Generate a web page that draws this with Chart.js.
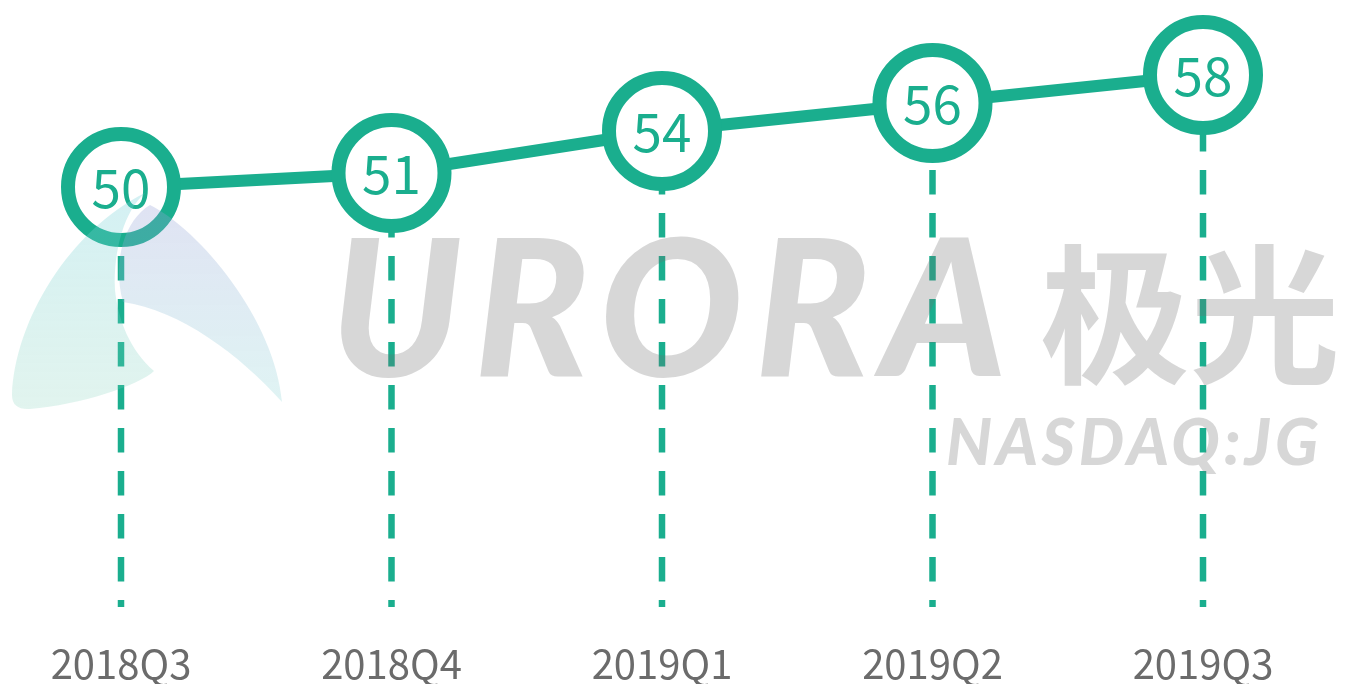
<!DOCTYPE html>
<html>
<head>
<meta charset="utf-8">
<script src="https://cdn.jsdelivr.net/npm/chart.js@4"></script>
<style>
  html, body { margin: 0; padding: 0; background: #fff; }
  #wrap { width: 1345px; height: 684px; position: relative; }
</style>
</head>
<body>
<div id="wrap"><canvas id="chart"></canvas></div>
<script>
// data
const quarters = ["2018Q3", "2018Q4", "2019Q1", "2019Q2", "2019Q3"];
const values = [50, 51, 54, 56, 58];

const teal = "#1aae8e";

// dashed drop lines from each point to the bottom of the plot
const dropLines = {
  id: "dropLines",
  beforeDatasetsDraw(chart) {
    const ctx = chart.ctx;
    const area = chart.chartArea;
    const meta = chart.getDatasetMeta(0);
    ctx.save();
    ctx.strokeStyle = teal;
    ctx.lineWidth = 6.5;
    ctx.setLineDash([24.5, 18.5]);
    meta.data.forEach(p => {
      ctx.lineDashOffset = p.y + 2;
      ctx.beginPath();
      ctx.moveTo(p.x, p.y);
      ctx.lineTo(p.x, area.bottom);
      ctx.stroke();
    });
    ctx.restore();
  }
};

// value inside each circle
const valueLabels = {
  id: "valueLabels",
  afterDatasetsDraw(chart) {
    const ctx = chart.ctx;
    const meta = chart.getDatasetMeta(0);
    ctx.save();
    ctx.fillStyle = teal;
    ctx.font = '53px "Noto Sans CJK SC"';
    ctx.textAlign = "center";
    ctx.textBaseline = "middle";
    meta.data.forEach((p, i) => {
      ctx.fillText(String(values[i]), p.x, p.y + 1);
    });
    ctx.restore();
  }
};

// faint logo watermark over everything
const watermark = {
  id: "watermark",
  afterDraw(chart) {
    const ctx = chart.ctx;
    ctx.save();
    // fan shaped logo on the left
    let g = ctx.createLinearGradient(0, 190, 0, 410);
    g.addColorStop(0, "rgba(120,210,220,0.32)");
    g.addColorStop(1, "rgba(120,205,180,0.22)");
    ctx.fillStyle = g;
    ctx.beginPath();
    ctx.moveTo(145, 193);
    ctx.bezierCurveTo(70, 230, 15, 320, 12, 395);
    ctx.quadraticCurveTo(12, 410, 30, 409);
    ctx.bezierCurveTo(80, 405, 140, 385, 154, 371);
    ctx.bezierCurveTo(130, 350, 118, 320, 115, 290);
    ctx.bezierCurveTo(113, 250, 125, 210, 145, 193);
    ctx.fill();
    g = ctx.createLinearGradient(0, 205, 0, 405);
    g.addColorStop(0, "rgba(150,160,215,0.30)");
    g.addColorStop(1, "rgba(130,210,210,0.25)");
    ctx.fillStyle = g;
    ctx.beginPath();
    ctx.moveTo(150, 205);
    ctx.bezierCurveTo(200, 230, 275, 320, 282, 402);
    ctx.bezierCurveTo(240, 355, 180, 310, 123, 302);
    ctx.bezierCurveTo(112, 260, 125, 220, 150, 205);
    ctx.fill();

    ctx.fillStyle = "rgba(110,110,110,0.28)";
    ctx.textBaseline = "alphabetic";
    ctx.textAlign = "left";
    ctx.font = 'italic 900 190px Lato';
    ctx.letterSpacing = "12px";
    ctx.fillText("URORA", 330, 376);
    ctx.letterSpacing = "0px";
    ctx.font = 'bold 150px "Noto Sans CJK SC"';
    ctx.fillText("极光", 1040, 372);
    ctx.font = 'italic 900 64px Lato';
    ctx.letterSpacing = "4px";
    ctx.fillText("NASDAQ:JG", 946, 465);
    ctx.restore();
  }
};

new Chart(document.getElementById("chart"), {
  type: "line",
  data: {
    labels: quarters,
    datasets: [{
      data: values,
      borderColor: teal,
      borderWidth: 12,
      tension: 0,
      fill: false,
      clip: false,
      pointRadius: 53,
      pointHoverRadius: 53,
      pointBorderWidth: 14,
      pointHoverBorderWidth: 14,
      pointBorderColor: teal,
      pointBackgroundColor: "#fff"
    }]
  },
  options: {
    responsive: true,
    maintainAspectRatio: false,
    animation: false,
    events: [],
    layout: { autoPadding: false, padding: { left: 121, right: 142, top: 0, bottom: -37 } },
    plugins: {
      legend: { display: false },
      tooltip: { enabled: false }
    },
    scales: {
      x: {
        offset: false,
        grid: { display: false, drawTicks: false },
        border: { display: false },
        ticks: {
          color: "#6b6b6b",
          padding: 37,
          maxRotation: 0,
          autoSkip: false,
          font: { family: '"Noto Sans CJK SC"', size: 40, lineHeight: 1 }
        }
      },
      y: {
        display: false,
        min: 20,
        max: 63.36
      }
    }
  },
  plugins: [dropLines, valueLabels, watermark]
});
</script>
</body>
</html>
